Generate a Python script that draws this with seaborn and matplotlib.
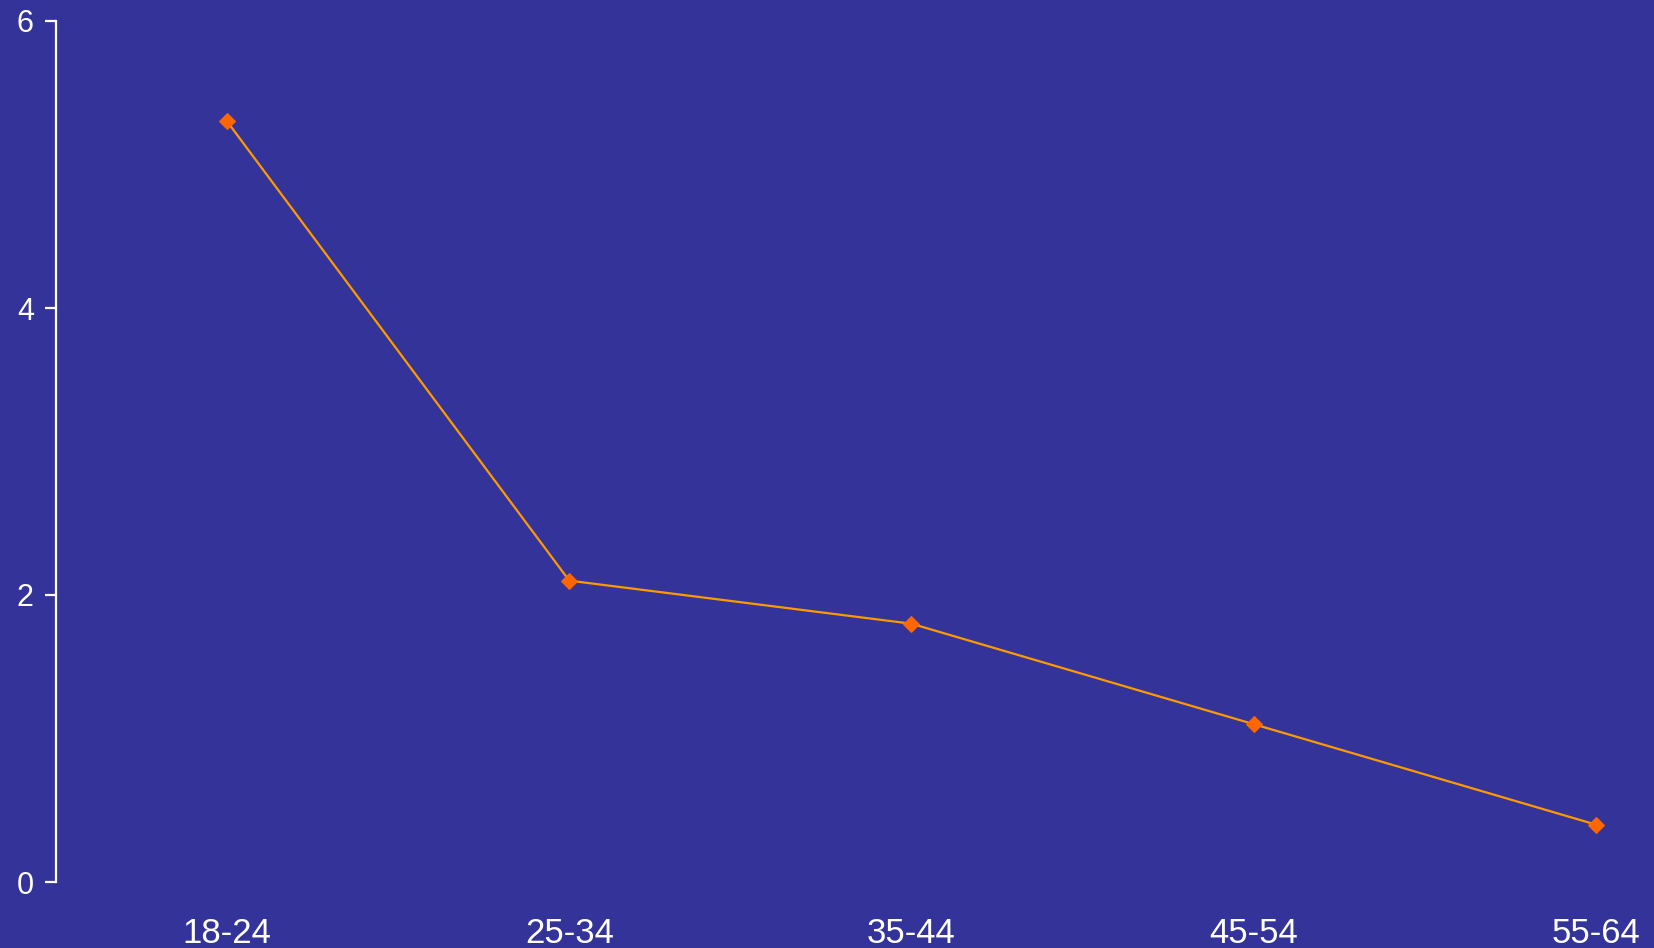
import matplotlib
matplotlib.use("Agg")
import matplotlib.pyplot as plt
import seaborn as sns
import pandas as pd

age_groups = ["18-24", "25-34", "35-44", "45-54", "55-64"]
values = [5.3, 2.1, 1.8, 1.1, 0.4]
y_ticks = [0, 2, 4, 6]

BG = "#333399"
LINE = "#FF9900"
MARK = "#FF6600"

sns.set_style("white")
plt.rcParams["font.family"] = ["Liberation Sans", "DejaVu Sans"]

df = pd.DataFrame({"age": age_groups, "value": values})

fig = plt.figure(figsize=(16.54, 9.48), dpi=100, facecolor=BG)
ax = fig.add_axes([56 / 1654, 66 / 948, 1 - 56 / 1654, (882 - 21) / 948])
ax.set_facecolor(BG)

sns.lineplot(data=df, x="age", y="value", ax=ax, sort=False, color=LINE,
             linewidth=1.6, marker="D", markersize=8.5,
             markerfacecolor=MARK, markeredgecolor=MARK)

ax.set_xlim(-0.5, 4.17)
ax.set_ylim(0, 6)
ax.set_yticks(y_ticks)
ax.set_yticklabels([str(t) for t in y_ticks])
ax.set_xlabel("")
ax.set_ylabel("")

for side in ["top", "right", "bottom"]:
    ax.spines[side].set_visible(False)
ax.spines["left"].set_color("white")
ax.spines["left"].set_linewidth(1.6)

ax.tick_params(axis="y", colors="white", labelsize=22, length=8, width=1.6,
               pad=8, left=True)
ax.tick_params(axis="x", colors="white", labelsize=25, length=0, pad=25)

fig.savefig("out.png", dpi=100, facecolor=BG)
